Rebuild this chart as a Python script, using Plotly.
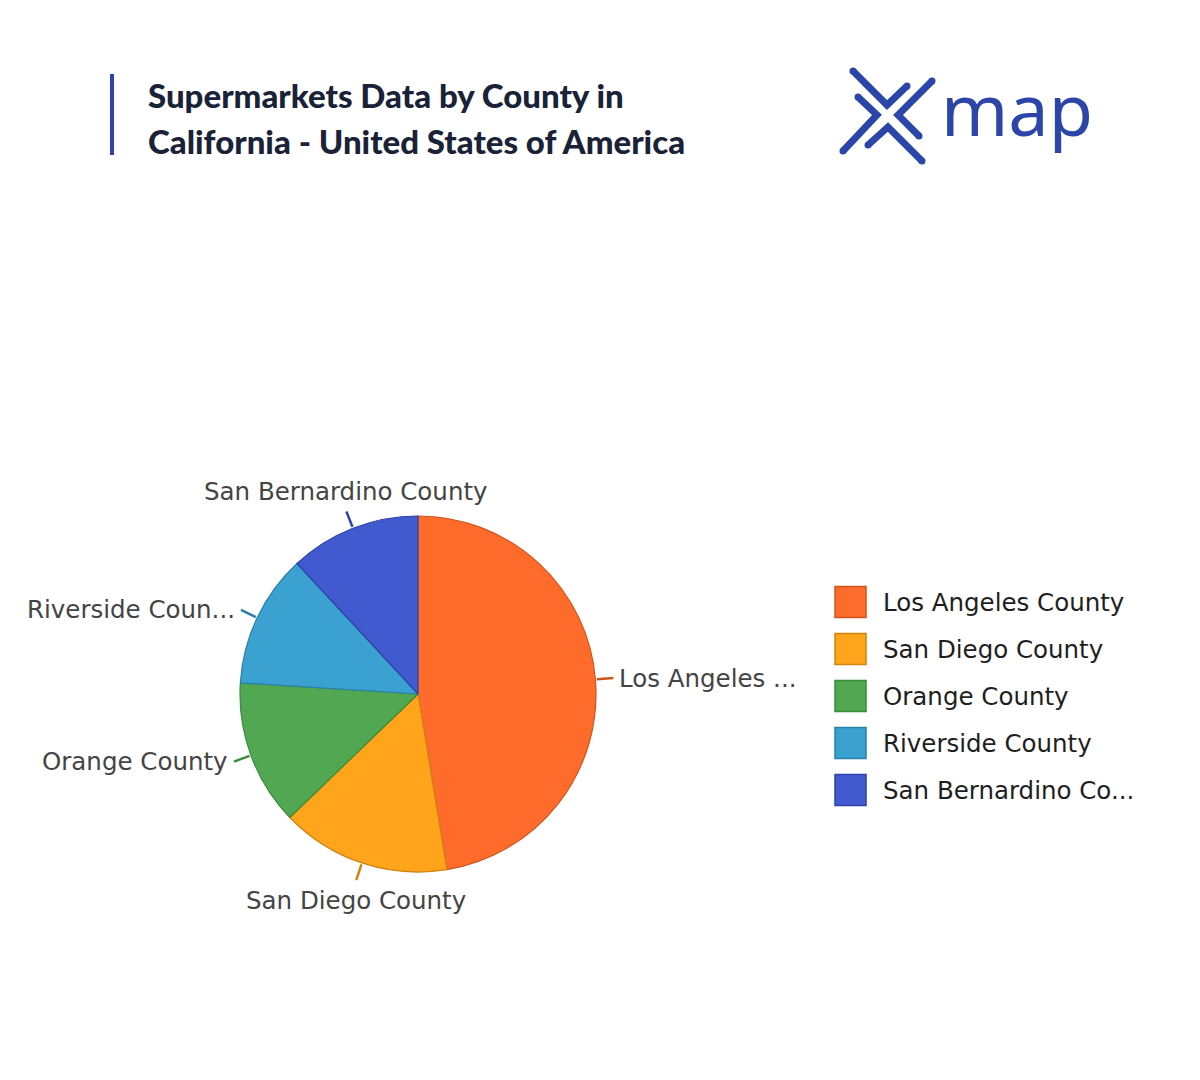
import math
import plotly.graph_objects as go

W, H = 1200, 1080

counties = ["Los Angeles County", "San Diego County", "Orange County",
            "Riverside County", "San Bernardino County"]
slice_text = ["Los Angeles ...", "San Diego County", "Orange County",
              "Riverside Coun...", "San Bernardino County"]
legend_text = ["Los Angeles County", "San Diego County", "Orange County",
               "Riverside County", "San Bernardino Co..."]
values = [474, 154, 132, 121, 119]
colors = ["#FF6B2B", "#FFA41B", "#52A852", "#3AA1D0", "#425AD0"]
borders = ["#D0541A", "#CF8410", "#3A8A3C", "#2A80A8", "#2E42A8"]

title_lines = ["Supermarkets Data by County in",
               "California - United States of America"]

BRAND = "#2B45A9"

# pie placement (pixels)
CX, CY, R = 418, 694, 178


def px(x):
    return x / W


def py(y):
    return 1 - y / H


fig = go.Figure()
fig.add_trace(go.Pie(
    labels=counties,
    values=values,
    textinfo="none",
    marker=dict(colors=colors, line=dict(color=borders, width=1.2)),
    sort=False,
    direction="clockwise",
    rotation=0,
    showlegend=False,
    hoverinfo="label+value+percent",
    domain=dict(x=[px(CX - R), px(CX + R)], y=[py(CY + R), py(CY - R)]),
))

shapes = []
annotations = []

# outside slice labels with leader lines, positioned from the slice angles
total = float(sum(values))
cum = 0.0
for v, t, b in zip(values, slice_text, borders):
    mid = (cum + v / 2.0) / total * 2 * math.pi
    cum += v
    ux, uy = math.sin(mid), -math.cos(mid)
    if uy < -0.8:
        xa, ya = "center", "bottom"
    elif uy > 0.8:
        xa, ya = "center", "top"
    elif ux > 0:
        xa, ya = "left", "middle"
    else:
        xa, ya = "right", "middle"
    L = 18
    annotations.append(dict(
        text=t, xref="paper", yref="paper",
        x=px(CX + R * ux), y=py(CY + R * uy),
        ax=L * ux, ay=L * uy, axref="pixel", ayref="pixel",
        xanchor=xa, yanchor=ya,
        showarrow=True, arrowhead=0, arrowwidth=2.5, arrowcolor=b,
        standoff=1.5, borderpad=5,
        font=dict(family="DejaVu Sans", size=24.5, color="#444444")))

# title accent bar
shapes.append(dict(type="line", xref="paper", yref="paper",
                   x0=px(112), x1=px(112), y0=py(74), y1=py(155),
                   line=dict(color=BRAND, width=4)))

# title
for i, t in enumerate(title_lines):
    annotations.append(dict(text=t, xref="paper", yref="paper",
                            x=px(146), y=py(95 + i * 46), xanchor="left", yanchor="middle",
                            showarrow=False,
                            font=dict(family="Lato", size=33, color="#1A2238", weight=900)))

# logo chevrons
chevrons = [
    [(853, 71), (887, 105), (907, 86)],
    [(858, 97), (877, 115), (843, 151)],
    [(932, 81), (898, 115), (919, 136)],
    [(868, 145), (888, 127), (922, 161)],
]
for pts in chevrons:
    path = "M {} {} L {} {} L {} {}".format(
        px(pts[0][0]), py(pts[0][1]), px(pts[1][0]), py(pts[1][1]),
        px(pts[2][0]), py(pts[2][1]))
    shapes.append(dict(type="path", xref="paper", yref="paper", path=path,
                       line=dict(color=BRAND, width=7)))
    for (x, y) in (pts[0], pts[2]):
        shapes.append(dict(type="circle", xref="paper", yref="paper",
                           x0=px(x - 3.5), x1=px(x + 3.5), y0=py(y + 3.5), y1=py(y - 3.5),
                           fillcolor=BRAND, line=dict(width=0)))

annotations.append(dict(text="map", xref="paper", yref="paper",
                        x=px(1017), y=py(108), xanchor="center", yanchor="middle",
                        showarrow=False,
                        font=dict(family="Noto Sans", size=72, color=BRAND)))

# custom legend
for i, (name, c, b) in enumerate(zip(legend_text, colors, borders)):
    cy = 602 + i * 47
    shapes.append(dict(type="rect", xref="paper", yref="paper",
                       x0=px(835), x1=px(866), y0=py(cy + 15.5), y1=py(cy - 15.5),
                       fillcolor=c, line=dict(color=b, width=1.5)))
    annotations.append(dict(text=name, xref="paper", yref="paper",
                            x=px(881), y=py(cy), xanchor="left", yanchor="middle",
                            showarrow=False,
                            font=dict(family="DejaVu Sans", size=24.5, color="#1E1E1E")))

fig.update_layout(
    width=W, height=H,
    margin=dict(l=0, r=0, t=0, b=0),
    paper_bgcolor="#FFFFFF",
    plot_bgcolor="#FFFFFF",
    shapes=shapes,
    annotations=annotations,
    showlegend=False,
)

fig.write_html("out.html")
